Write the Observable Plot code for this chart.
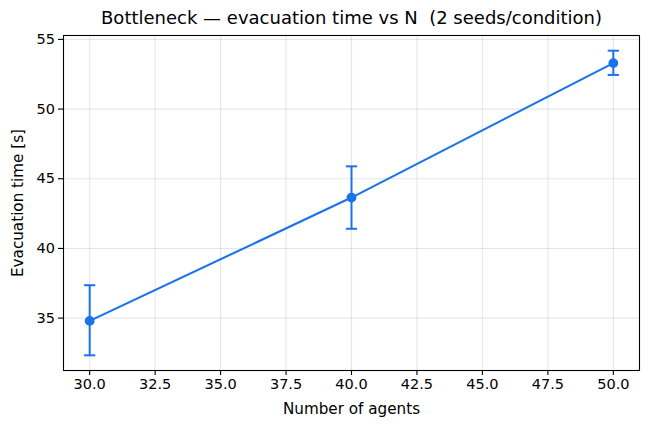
<!DOCTYPE html>
<html>
<head>
<meta charset="utf-8">
<script src="https://cdn.jsdelivr.net/npm/d3@7"></script>
<script src="https://cdn.jsdelivr.net/npm/@observablehq/plot@0.6"></script>
<style>
  html, body { margin: 0; padding: 0; background: #fff; }
  svg { display: block; }
</style>
</head>
<body>
<div id="chart"></div>
<script>
const agents = [30, 40, 50];
const meanTime = [34.8, 43.65, 53.3];
const lowTime = [32.33, 41.41, 52.45];
const highTime = [37.36, 45.89, 54.19];
const xTicks = [30, 32.5, 35, 37.5, 40, 42.5, 45, 47.5, 50];
const yTicks = [35, 40, 45, 50, 55];
const title = "Bottleneck — evacuation time vs N  (2 seeds/condition)";
const xLabel = "Number of agents";
const yLabel = "Evacuation time [s]";

const data = agents.map((n, i) => ({n, mean: meanTime[i], lo: lowTime[i], hi: highTime[i]}));
const blue = "#1a73e8";
const capSymbol = {draw(ctx) { ctx.moveTo(-5.6, 0); ctx.lineTo(5.6, 0); }};

const chart = Plot.plot({
  width: 649,
  height: 429,
  marginLeft: 63,
  marginRight: 10,
  marginTop: 35,
  marginBottom: 59,
  style: {fontFamily: "DejaVu Sans", fontSize: "14.5px", background: "#fff", color: "#000"},
  x: {domain: [29, 51]},
  y: {domain: [31.24, 55.28]},
  marks: [
    Plot.gridX(xTicks, {stroke: "#b0b0b0", strokeOpacity: 0.3, strokeWidth: 1.1}),
    Plot.gridY(yTicks, {stroke: "#b0b0b0", strokeOpacity: 0.3, strokeWidth: 1.1}),
    Plot.axisX(xTicks, {tickSize: 5, tickPadding: 3.5, tickFormat: d3.format(".1f"), label: null, stroke: "#000", strokeWidth: 1.1, fill: "#000", fontSize: 14.5}),
    Plot.axisY(yTicks, {tickSize: 5, tickPadding: 3.5, tickFormat: d3.format("d"), label: null, stroke: "#000", strokeWidth: 1.1, fill: "#000", fontSize: 14.5}),
    Plot.ruleX(data, {x: "n", y1: "lo", y2: "hi", stroke: blue, strokeWidth: 2}),
    Plot.dot(data, {x: "n", y: "lo", symbol: capSymbol, stroke: blue, strokeWidth: 2, r: 5}),
    Plot.dot(data, {x: "n", y: "hi", symbol: capSymbol, stroke: blue, strokeWidth: 2, r: 5}),
    Plot.line(data, {x: "n", y: "mean", stroke: blue, strokeWidth: 2.1}),
    Plot.dot(data, {x: "n", y: "mean", fill: blue, r: 4.9}),
    Plot.frame({stroke: "#000", strokeWidth: 1.1}),
    Plot.text([title], {frameAnchor: "top", dy: -17, lineAnchor: "middle", fontSize: 18, fill: "#000"}),
    Plot.text([xLabel], {frameAnchor: "bottom", dy: 39, lineAnchor: "middle", fontSize: 15.2, fill: "#000"}),
    Plot.text([yLabel], {frameAnchor: "left", dx: -45, rotate: -90, lineAnchor: "middle", textAnchor: "middle", fontSize: 15.2, fill: "#000"})
  ]
});
document.getElementById("chart").appendChild(chart);
</script>
</body>
</html>
